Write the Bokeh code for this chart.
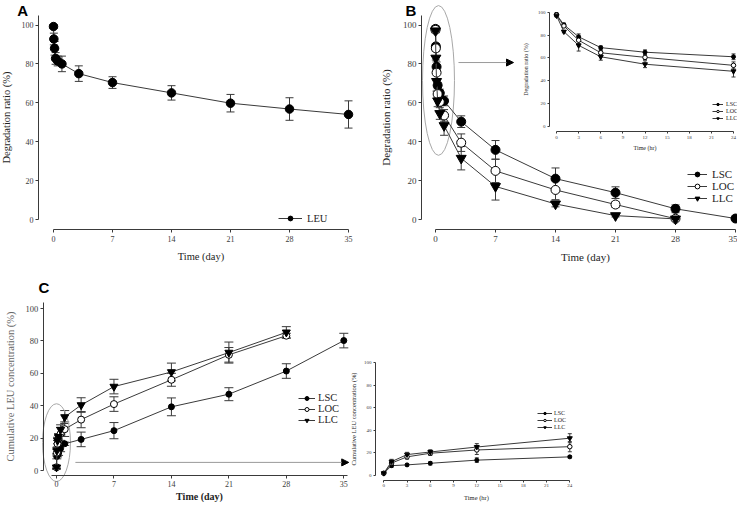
from bokeh.plotting import figure
from bokeh.layouts import row, column
from bokeh.models import (Range1d, LinearAxis, FixedTicker, Whisker, TeeHead, ColumnDataSource,
                          Legend, LegendItem, Arrow, NormalHead, Label)
from bokeh.embed import file_html
from bokeh.resources import INLINE

SERIF = "Liberation Serif"
SANS = "Liberation Sans"
INK = "#1e1e1e"
AXC = "#3a3a3a"
LBL = "#3c3c3c"

# ---------------- data ----------------
t_days = [0, 1 / 24, 3 / 24, 6 / 24, 12 / 24, 1, 3, 7, 14, 21, 28, 35]
day_ticks = [0, 7, 14, 21, 28, 35]
hr_ticks = [0, 3, 6, 9, 12, 15, 18, 21, 24]
pct_ticks = [0, 20, 40, 60, 80, 100]

# Panel A: LEU degradation ratio (%)
a_leu = [99.2, 92.8, 88.0, 82.8, 81.5, 80.0, 75.0, 70.4, 65.1, 59.8, 56.8, 54.0]
a_leu_err = [1.0, 3.0, 3.5, 3.0, 2.5, 4.0, 4.0, 3.0, 3.7, 4.5, 5.8, 7.0]

# Panel B: degradation ratio (%)
b_lsc = [98.0, 89.0, 78.5, 69.0, 65.0, 61.0, 50.3, 35.8, 21.0, 13.8, 5.5, 0.5]
b_lsc_err = [1.5, 1.5, 2.5, 1.5, 2.0, 2.5, 3.0, 4.8, 5.5, 3.0, 2.0, 0.5]
b_loc = [97.5, 88.0, 75.5, 64.5, 60.5, 53.5, 39.5, 25.0, 15.2, 7.7, 0.4]
b_loc_err = [1.0, 1.5, 3.0, 2.0, 2.0, 3.0, 4.5, 6.0, 5.0, 1.5, 0.5]
b_llc = [97.0, 83.0, 71.0, 61.0, 54.5, 48.3, 31.5, 17.0, 8.0, 2.0, 0.3]
b_llc_err = [1.0, 1.0, 5.0, 3.0, 3.0, 5.0, 6.0, 7.0, 1.5, 0.7, 0.3]

# Panel C: cumulative LEU concentration (%)
c_lsc = [2.0, 8.7, 9.4, 10.8, 13.6, 16.5, 19.2, 24.6, 39.3, 47.1, 61.4, 80.2]
c_lsc_err = [1.0, 1.5, 1.0, 1.5, 2.0, 1.0, 4.5, 5.0, 5.5, 4.0, 4.5, 4.5]
c_loc = [2.0, 11.0, 16.5, 19.7, 22.6, 25.5, 31.4, 41.0, 56.0, 71.4, 83.2]
c_loc_err = [1.0, 2.0, 2.0, 2.0, 4.0, 4.5, 5.0, 4.5, 4.0, 4.5, 1.5]
c_llc = [2.0, 12.3, 18.5, 20.8, 25.2, 33.0, 40.4, 51.8, 60.8, 72.8, 85.3]
c_llc_err = [1.0, 2.0, 2.0, 2.0, 3.0, 4.0, 4.5, 4.5, 5.5, 6.5, 3.5]

N_INSET = 6  # first 6 time points (0-24 h) shown in the insets
t_hours = [t * 24 for t in t_days[:N_INSET]]


# ---------------- helpers ----------------
def mk(width, height, xr, yr):
    p = figure(width=width, height=height, x_range=Range1d(*xr), y_range=Range1d(*yr),
               output_backend="svg", toolbar_location=None,
               min_border_left=0, min_border_right=0, min_border_top=0, min_border_bottom=0)
    p.grid.visible = False
    p.outline_line_color = None
    p.background_fill_color = "white"
    p.border_fill_color = "white"
    return p


def style_axis(ax, tick_px, label_px, tick_out=3, lab_off=2, title_off=3,
               title_color=INK, bold=False):
    ax.axis_line_color = AXC
    ax.axis_line_width = 1
    ax.major_tick_line_color = AXC
    ax.minor_tick_line_color = None
    ax.major_tick_in = 0
    ax.major_tick_out = tick_out
    ax.major_label_standoff = lab_off
    ax.major_label_text_font = SERIF
    ax.major_label_text_font_size = f"{tick_px}px"
    ax.major_label_text_color = LBL
    ax.axis_label_standoff = title_off
    ax.axis_label_text_font = SERIF
    ax.axis_label_text_font_size = f"{label_px}px"
    ax.axis_label_text_font_style = "bold" if bold else "normal"
    ax.axis_label_text_color = title_color


def series(p, x, y, err, marker, size, fill, cap, rng=None):
    n = len(y)
    x = list(x[:n])
    src = ColumnDataSource(dict(x=x, y=y,
                                lo=[v - e for v, e in zip(y, err)],
                                hi=[v + e for v, e in zip(y, err)]))
    kw = {} if rng is None else dict(x_range_name=rng[0], y_range_name=rng[1])
    w = Whisker(source=src, base="x", lower="lo", upper="hi", line_color=AXC, line_width=1,
                upper_head=TeeHead(size=cap, line_color=AXC, line_width=1),
                lower_head=TeeHead(size=cap, line_color=AXC, line_width=1),
                level="underlay", **kw)
    p.add_layout(w)
    ln = p.line("x", "y", source=src, line_color=AXC, line_width=1, **kw)
    sc = p.scatter("x", "y", source=src, marker=marker, size=size, fill_color=fill,
                   line_color="black", line_width=1, **kw)
    return ln, sc


def legend(items, loc, glyph_w, h, spacing, standoff, font_px):
    return Legend(items=items, location=loc, orientation="vertical",
                  glyph_width=glyph_w, glyph_height=h, label_height=h, label_width=8,
                  spacing=spacing, padding=0, margin=0, label_standoff=standoff,
                  label_text_font=SERIF, label_text_font_size=f"{font_px}px",
                  label_text_color=INK, border_line_alpha=0, background_fill_alpha=0)


def panel_letter(p, text, x, y):
    p.add_layout(Label(x=x, y=y, text=text,
                       text_font=SANS, text_font_style="bold", text_font_size="15px",
                       text_baseline="top", text_align="left", text_color="black"))


def rng_from_px(lo_px, hi_px, px_a, val_a, px_b, val_b):
    """Range whose ends sit at pixel lo_px / hi_px, for a scale through (px_a,val_a),(px_b,val_b)."""
    k = (val_b - val_a) / (px_b - px_a)
    return (val_a + (lo_px - px_a) * k, val_a + (hi_px - px_a) * k)


# ---------------- Panel A (canvas x 0..378, y 0..264) ----------------
ax_r = rng_from_px(0, 378, 53, 0, 348, 35)
ay_r = rng_from_px(264, 0, 219, 0, 24.5, 100)
pA = mk(378, 264, ax_r, ay_r)
style_axis(pA.xaxis[0], 8, 10.5, tick_out=3, lab_off=4, title_off=5)
style_axis(pA.yaxis[0], 8, 10.5, tick_out=3, lab_off=2, title_off=7)
pA.xaxis.ticker = FixedTicker(ticks=day_ticks)
pA.yaxis.ticker = FixedTicker(ticks=pct_ticks)
pA.xaxis.bounds = (0, 35)
pA.yaxis.bounds = (0, 105)
pA.xaxis.fixed_location = -5.14
pA.yaxis.fixed_location = -1.78
pA.xaxis.axis_label = "Time (day)"
pA.yaxis.axis_label = "Degradation ratio (%)"
la, sa = series(pA, t_days, a_leu, a_leu_err, "circle", 8.5, "black", 8)
pA.add_layout(legend([LegendItem(label="LEU", renderers=[la, sa])], (278, 40), 24, 12, 0, 5, 10.5))
panel_letter(pA, "A", -4.3, 112.0)

# ---------------- Panel B (canvas x 378..737, y 0..264) ----------------
bx_r = rng_from_px(378, 737, 435, 0, 735, 35)
pB = mk(359, 264, bx_r, ay_r)
style_axis(pB.xaxis[0], 9, 11, tick_out=3, lab_off=4, title_off=5)
style_axis(pB.yaxis[0], 9, 11, tick_out=3, lab_off=2, title_off=8)
pB.xaxis.ticker = FixedTicker(ticks=day_ticks)
pB.yaxis.ticker = FixedTicker(ticks=pct_ticks)
pB.xaxis.bounds = (0, 35)
pB.yaxis.bounds = (0, 105)
pB.xaxis.fixed_location = -5.14
pB.yaxis.fixed_location = -1.633
pB.xaxis.axis_label = "Time (day)"
pB.yaxis.axis_label = "Degradation ratio (%)"

pB.ellipse(x=[0.35], y=[71.5], width=3.73, height=77, fill_color=None,
           line_color="#a8a8a8", line_width=1)
pB.add_layout(Arrow(x_start=2.68, y_start=80.7, x_end=9.1, y_end=80.7,
                    line_color="#9a9a9a", line_width=1,
                    end=NormalHead(size=7, fill_color="black", line_color="black")))

l1, s1 = series(pB, t_days, b_lsc, b_lsc_err, "circle", 9, "black", 8)
l2, s2 = series(pB, t_days, b_loc, b_loc_err, "circle", 9, "white", 8)
l3, s3 = series(pB, t_days, b_llc, b_llc_err, "inverted_triangle", 10, "black", 8)
pB.add_layout(legend([LegendItem(label="LSC", renderers=[l1, s1]),
                      LegendItem(label="LOC", renderers=[l2, s2]),
                      LegendItem(label="LLC", renderers=[l3, s3])],
                     (309, 60), 20, 12, 0, 5, 11))
panel_letter(pB, "B", -3.5, 112.0)

# inset of B (0-24 h) on its own ranges
pB.extra_x_ranges = {"ix": Range1d(*rng_from_px(378, 737, 556, 0, 733, 24))}
pB.extra_y_ranges = {"iy": Range1d(*rng_from_px(264, 0, 126, 0, 11.7, 100))}
ixa = LinearAxis(x_range_name="ix", y_range_name="iy", fixed_location=-4.4, bounds=(0, 24),
                 ticker=FixedTicker(ticks=hr_ticks), axis_label="Time (hr)")
iya = LinearAxis(x_range_name="ix", y_range_name="iy", fixed_location=-0.95, bounds=(0, 100),
                 ticker=FixedTicker(ticks=pct_ticks), axis_label="Degradation ratio (%)")
style_axis(ixa, 5, 6, tick_out=2, lab_off=2, title_off=3)
style_axis(iya, 5, 6, tick_out=2, lab_off=2, title_off=6)
pB.add_layout(ixa, "below")
pB.add_layout(iya, "left")
ir = ("ix", "iy")
i1, j1 = series(pB, t_hours, b_lsc[:N_INSET], b_lsc_err[:N_INSET], "circle", 4, "black", 4, ir)
i2, j2 = series(pB, t_hours, b_loc[:N_INSET], b_loc_err[:N_INSET], "circle", 4.5, "white", 4, ir)
i3, j3 = series(pB, t_hours, b_llc[:N_INSET], b_llc_err[:N_INSET], "inverted_triangle", 5, "black", 4, ir)
pB.add_layout(legend([LegendItem(label="LSC", renderers=[i1, j1]),
                      LegendItem(label="LOC", renderers=[i2, j2]),
                      LegendItem(label="LLC", renderers=[i3, j3])],
                     (334, 143), 11, 6, 1, 3, 6))

# ---------------- Panel C + its inset (canvas x 0..580, y 264..502) ----------------
cx_r = rng_from_px(0, 580, 56, 0, 343.3, 35)
cy_r = rng_from_px(502, 264, 470, 0, 308, 100)
pC = mk(580, 238, cx_r, cy_r)
style_axis(pC.xaxis[0], 8, 10, tick_out=3, lab_off=2, title_off=1, bold=True)
style_axis(pC.yaxis[0], 8.5, 10.5, tick_out=3, lab_off=2, title_off=7, title_color="#666666")
pC.xaxis.ticker = FixedTicker(ticks=day_ticks)
pC.yaxis.ticker = FixedTicker(ticks=pct_ticks)
pC.xaxis.bounds = (-0.6, 35.4)
pC.yaxis.bounds = (0, 104)
pC.xaxis.fixed_location = -3.09
pC.yaxis.fixed_location = -1.62
pC.xaxis.axis_label = "Time (day)"
pC.yaxis.axis_label = "Cumulative LEU concentration (%)"

pC.ellipse(x=[0.0], y=[17.2], width=3.4, height=48, fill_color=None,
           line_color="#a8a8a8", line_width=1)
pC.add_layout(Arrow(x_start=2.3, y_start=5, x_end=35.6, y_end=5,
                    line_color="#9a9a9a", line_width=1,
                    end=NormalHead(size=7, fill_color="black", line_color="black")))

m1, n1 = series(pC, t_days, c_lsc, c_lsc_err, "circle", 6, "black", 9)
m2, n2 = series(pC, t_days, c_loc, c_loc_err, "circle", 7, "white", 9)
m3, n3 = series(pC, t_days, c_llc, c_llc_err, "inverted_triangle", 8, "black", 9)
pC.add_layout(legend([LegendItem(label="LSC", renderers=[m1, n1]),
                      LegendItem(label="LOC", renderers=[m2, n2]),
                      LegendItem(label="LLC", renderers=[m3, n3])],
                     (298, 77), 17, 10, 0, 3, 10.5))
panel_letter(pC, "C", -2.2, 118.5)

# inset of C (0-24 h)
pC.extra_x_ranges = {"cx": Range1d(*rng_from_px(0, 580, 383.3, 0, 569.3, 24))}
pC.extra_y_ranges = {"cy": Range1d(*rng_from_px(502, 264, 475, 0, 362, 100))}
cxa = LinearAxis(x_range_name="cx", y_range_name="cy", fixed_location=-4.4, bounds=(0, 24),
                 ticker=FixedTicker(ticks=hr_ticks), axis_label="Time (hr)")
cya = LinearAxis(x_range_name="cx", y_range_name="cy", fixed_location=-1.07, bounds=(0, 100),
                 ticker=FixedTicker(ticks=pct_ticks), axis_label="Cumulative LEU concentration (%)")
style_axis(cxa, 5, 6.5, tick_out=2, lab_off=2, title_off=3)
style_axis(cya, 5, 6.5, tick_out=2, lab_off=2, title_off=4)
pC.add_layout(cxa, "below")
pC.add_layout(cya, "left")
cr = ("cx", "cy")
k1, q1 = series(pC, t_hours, c_lsc[:N_INSET], c_lsc_err[:N_INSET], "circle", 4, "black", 4, cr)
k2, q2 = series(pC, t_hours, c_loc[:N_INSET], c_loc_err[:N_INSET], "circle", 4.5, "white", 4, cr)
k3, q3 = series(pC, t_hours, c_llc[:N_INSET], c_llc_err[:N_INSET], "inverted_triangle", 5, "black", 4, cr)
pC.add_layout(legend([LegendItem(label="LSC", renderers=[k1, q1]),
                      LegendItem(label="LOC", renderers=[k2, q2]),
                      LegendItem(label="LLC", renderers=[k3, q3])],
                     (537, 72), 15, 6, 1, 2, 6))

layout = column(row(pA, pB), pC)
open("out.html", "w").write(file_html(layout, INLINE))
